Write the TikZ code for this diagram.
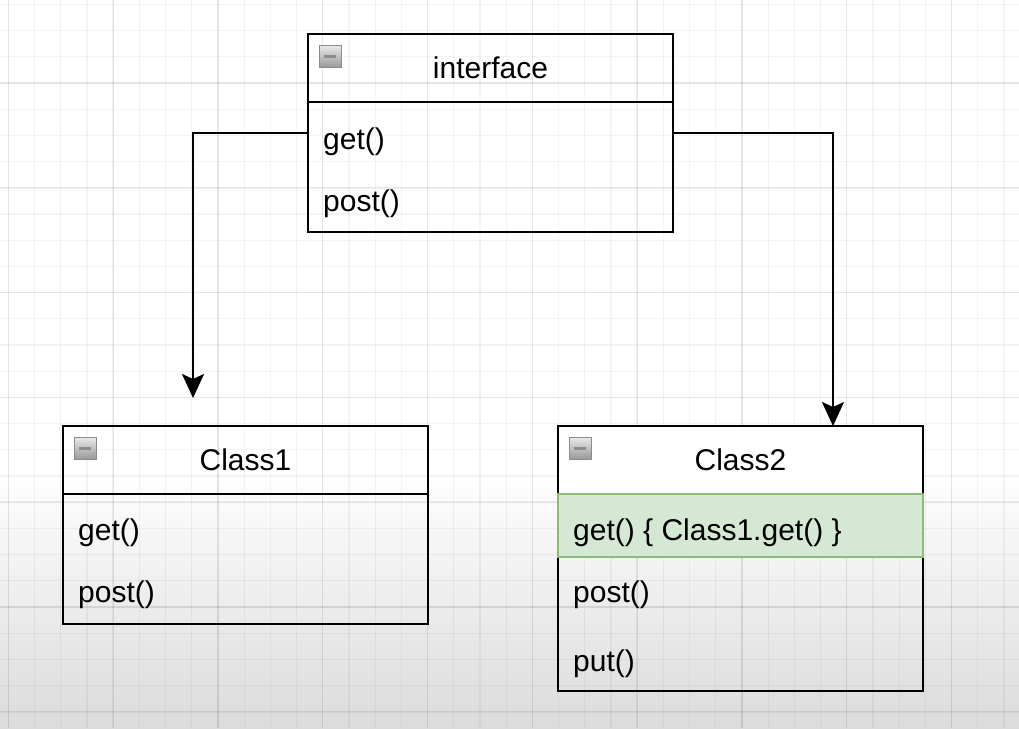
\documentclass[tikz,border=0pt]{standalone}
\usepackage{fontspec}
\setmainfont{Liberation Sans}
\usetikzlibrary{positioning, calc, arrows.meta}
\definecolor{rowgreen}{RGB}{213,232,212}
\definecolor{rowedge}{RGB}{140,188,118}

\begin{document}
\begin{tikzpicture}[
		x=1pt, y=-1pt,
		classhead/.style={draw, line width=2pt, minimum width=365pt, minimum height=68pt, inner sep=0pt, outer sep=0pt, font=\fontsize{30}{36}\selectfont},
		classbody/.style={draw, line width=2pt, minimum width=365pt, inner sep=0pt, outer sep=0pt},
		greenrow/.style={draw=rowedge, fill=rowgreen, line width=2pt, minimum width=365pt, minimum height=63pt, inner sep=0pt, outer sep=0pt},
		member/.style={anchor=west, inner sep=0pt, font=\fontsize{30}{36}\selectfont},
		minusbox/.style={draw=black!45, line width=1pt, top color=black!8, bottom color=black!40, minimum size=22pt, inner sep=0pt,
			path picture={\draw[line width=3pt] ([xshift=-6pt]path picture bounding box.center) -- ([xshift=6pt]path picture bounding box.center);}},
		conn/.style={line width=2pt, -{Stealth[length=24pt,width=22pt,inset=5pt]}},
		gridminor/.style={black, opacity=0.045, line width=1.2pt},
		gridmajor/.style={black, opacity=0.06, line width=1.5pt}]
		\useasboundingbox (0,0) rectangle (1019,728);
		\fill[white] (0,0) rectangle (1019,728);
		\shade[top color=white, bottom color=black!14] (0,470) rectangle (1019,728);

% background grid
		\foreach \i in {0,...,38} \draw[gridminor] ({8.3+26.2*\i},0) -- ({8.3+26.2*\i},728);
		\foreach \j in {0,...,27} \draw[gridminor] (0,{4.4+26.2*\j}) -- (1019,{4.4+26.2*\j});
		\foreach \i in {0,...,9} \draw[gridmajor] ({8.3+104.8*\i},0) -- ({8.3+104.8*\i},728);
		\foreach \j in {0,...,6} \draw[gridmajor] (0,{83+104.8*\j}) -- (1019,{83+104.8*\j});

		\node[classhead] (ifhead) at (490.5,68) {interface};
		\node[classbody, minimum height=130pt, below=0pt of ifhead] (ifbody) {};
		\node[minusbox] (ifminus) at ($(ifhead.north west)+(22,22)$) {};
		\node[member] (ifget)  at ($(ifhead.south west)+(15,40)$) {get()};
		\node[member] (ifpost) at ($(ifhead.south west)+(15,102)$) {post()};

		\node[classhead] (c1head) at (245.5,460) {Class1};
		\node[classbody, minimum height=130pt, below=0pt of c1head] (c1body) {};
		\node[minusbox] (c1minus) at ($(c1head.north west)+(22,22)$) {};
		\node[member] (c1get)  at ($(c1head.south west)+(15,39)$) {get()};
		\node[member] (c1post) at ($(c1head.south west)+(15,101)$) {post()};

		\node[classhead, fill=white] (c2head) at (740.5,460) {Class2};
		\node[classbody, minimum height=197pt, below=0pt of c2head] (c2body) {};
		\node[greenrow, below=0pt of c2head] (c2row) {};
		\node[minusbox] (c2minus) at ($(c2head.north west)+(22,22)$) {};
		\node[member] (c2get)  at ($(c2head.south west)+(15,39)$) {get() \{ Class1.get() \}};
		\node[member] (c2post) at ($(c2head.south west)+(15,101)$) {post()};
		\node[member] (c2put)  at ($(c2head.south west)+(15,170)$) {put()};

		\coordinate (c1tip) at ($(c1head.north west)+(130,-28)$);
		\draw[conn] ($(ifhead.south west)+(0,31)$) -| (c1tip);
		\draw[conn] ($(ifhead.south east)+(0,31)$) -| ($(c2head.north west)+(275,0)$);

\end{tikzpicture}
\end{document}
